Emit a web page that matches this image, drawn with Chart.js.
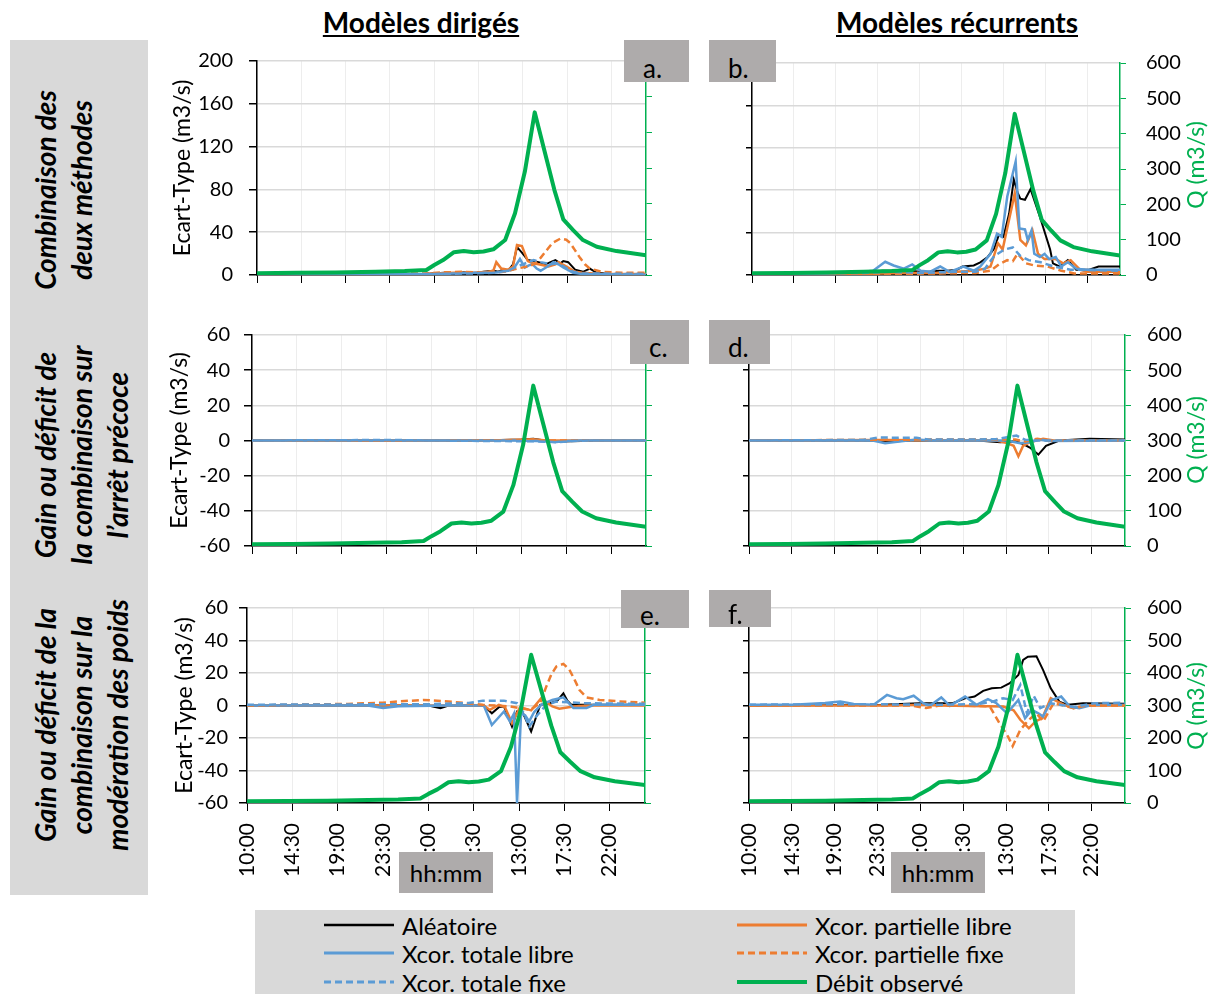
<!DOCTYPE html>
<html lang="fr">
<head>
<meta charset="utf-8">
<title>Ecart-type des débits - modèles dirigés et récurrents</title>
<script src="https://cdn.jsdelivr.net/npm/chart.js@4.4.1/dist/chart.umd.min.js"></script>
<style>
  body { margin: 0; background: #fff; font-family: Lato, sans-serif; color: #000; }
  #page { position: relative; width: 1212px; height: 994px; overflow: hidden; }
  canvas.panel { position: absolute; z-index: 1; }
  .col-title { position: absolute; top: 5px; font-weight: bold; font-size: 28px; text-decoration: underline; transform: translateX(-50%); white-space: nowrap; }
  .row-box { position: absolute; left: 10px; top: 40px; width: 138px; height: 855px; background: #D9D9D9; }
  .row-label { position: absolute; width: 320px; text-align: center; font-weight: bold; font-style: italic; font-size: 28px; line-height: 36px; transform: rotate(-90deg); white-space: nowrap; }
  .tag { position: absolute; background: #AEABAB; z-index: 2; overflow: hidden; }
  .tag span { position: absolute; left: 19px; font-size: 26px; line-height: 1; }
  .hh { position: absolute; top: 852px; width: 94px; height: 41px; line-height: 41px; background: #AEABAB; z-index: 2; font-size: 24px; text-align: center; }
  .q-title { position: absolute; width: 140px; height: 28px; line-height: 28px; text-align: center; color: #00B050; font-size: 23px; transform: rotate(-90deg); z-index: 2; }
  .legend-box { position: absolute; left: 255px; top: 910px; width: 820px; height: 90px; background: #D9D9D9; }
  .leg { position: absolute; height: 28px; display: flex; align-items: center; font-size: 24px; white-space: nowrap; }
  .leg svg { margin-right: 8px; }
</style>
</head>
<body>
<div id="page">
  <div class="col-title" style="left:421px">Modèles dirigés</div>
  <div class="col-title" style="left:957px">Modèles récurrents</div>

  <div class="row-box"></div>
  <div class="row-label" style="left:-97px; top:154px; height:72px">Combinaison des<br>deux méthodes</div>
  <div class="row-label" style="left:-79px; top:401px; height:108px">Gain ou déficit de<br>la combinaison sur<br>l’arrêt précoce</div>
  <div class="row-label" style="left:-79px; top:671px; height:108px">Gain ou déficit de la<br>combinaison sur la<br>modération des poids</div>

  <canvas class="panel" id="chart-a" width="506" height="249" style="left:150px; top:41px"></canvas>
  <canvas class="panel" id="chart-b" width="505" height="247" style="left:700px; top:43px"></canvas>
  <canvas class="panel" id="chart-c" width="506" height="246" style="left:150px; top:315px"></canvas>
  <canvas class="panel" id="chart-d" width="505" height="246" style="left:700px; top:315px"></canvas>
  <canvas class="panel" id="chart-e" width="505" height="307" style="left:150px; top:588px"></canvas>
  <canvas class="panel" id="chart-f" width="505" height="307" style="left:700px; top:588px"></canvas>

  <div class="tag" style="left:624px; top:40px; width:65px; height:42px"><span style="bottom:1px">a.</span></div>
  <div class="tag" style="left:709px; top:40px; width:67px; height:42px"><span style="bottom:1px">b.</span></div>
  <div class="tag" style="left:630px; top:320px; width:59px; height:44px"><span style="bottom:4px">c.</span></div>
  <div class="tag" style="left:709px; top:320px; width:61px; height:44px"><span style="bottom:4px">d.</span></div>
  <div class="tag" style="left:621px; top:590px; width:68px; height:38px"><span style="bottom:0px">e.</span></div>
  <div class="tag" style="left:709px; top:590px; width:62px; height:37px"><span style="bottom:0px">f.</span></div>

  <div class="hh" style="left:399px">hh:mm</div>
  <div class="hh" style="left:891px">hh:mm</div>

  <div class="q-title" style="left:1125px; top:151px">Q (m3/s)</div>
  <div class="q-title" style="left:1125px; top:426px">Q (m3/s)</div>
  <div class="q-title" style="left:1125px; top:692px">Q (m3/s)</div>

  <div class="legend-box"></div>
  <div id="legend"></div>
</div>

<script>
// axe des temps : heures écoulées depuis 10:00, étiquettes toutes les 4h30
const tickHours = [0, 4.5, 9, 13.5, 18, 22.5, 27, 31.5, 36];
const tickLabels = ['10:00', '14:30', '19:00', '23:30', '4:00', '8:30', '13:00', '17:30', '22:00'];

const seriesNames = ['Aléatoire', 'Xcor. partielle libre', 'Xcor. totale libre', 'Xcor. partielle fixe', 'Xcor. totale fixe'];
const debitName = 'Débit observé';

// débit observé (axe de droite, m3/s) - identique dans les 6 graphes
const debitObserve = [[0,5],[4,6],[8,7],[12,9],[15,11],[17.2,14],[18,28],[18.9,42],[20,64],[21,67],[22,64],[23,66],[24,72],[25.2,98],[26.2,173],[27.2,290],[28.2,456],[29.2,347],[30.2,238],[31.1,156],[32.1,126],[33.1,98],[34.5,79],[36.5,67],[39.5,55]];

// a. modèles dirigés - combinaison des deux méthodes
const aAlea = [[0,0.5],[10,0.5],[17,1],[19,2],[20,1],[21,2.5],[22,1.5],[23,3],[24,4],[24.5,3],[25,5],[25.5,4],[26,10],[26.4,26],[26.9,21],[27.5,14],[28,13],[28.6,12],[29.3,10],[29.8,12],[30.3,14],[30.8,11],[31.1,13],[31.6,12],[32.3,5],[33.1,3],[33.8,6],[34.5,2],[36,1],[39.5,1]];
const aPartLibre = [[0,0.5],[17,1],[20,2],[22,2],[23.5,3],[24,4],[24.3,12],[24.8,6],[25.5,5],[26,8],[26.4,28],[26.9,27],[27.5,13],[28,11],[28.6,10],[29.6,8],[30.3,10],[30.6,12],[31.2,9],[31.6,7],[32.3,3],[33,2],[35,1],[39.5,1]];
const aTotLibre = [[0,0.5],[18,1],[20,1.5],[22,2],[24,2],[25,3],[26,5],[26.7,15],[27.2,7],[27.6,9],[28,10],[28.4,6],[28.8,4],[29.5,8],[30.1,12],[30.6,10],[31.1,7],[32.1,2],[33,1],[39.5,0.5]];
const aPartFixe = [[0,0.5],[10,0.5],[17,1.5],[19,2.5],[21,3],[23,2],[25,3],[26.4,6],[27.5,8],[28.1,10],[28.8,16],[29.4,23],[30,30],[30.8,34],[31.4,33],[31.8,30],[32.3,23],[32.8,16],[33.3,10],[33.8,6],[35,3],[37,2],[39.5,2]];
const aTotFixe = [[0,0.5],[18,1],[22,1.5],[24,2],[25.5,4],[26.4,8],[27,10],[28.1,14],[28.8,12],[29.8,10],[30.5,11],[31.1,8],[32.1,3],[33,1.5],[39.5,1]];

// b. modèles récurrents - combinaison des deux méthodes
const bAlea = [[0,0.5],[10,1.5],[13,3],[14,4],[15.5,4],[17,4],[18,3],[19,3],[20,4],[21,4],[22,5],[22.6,8],[23.8,9],[24.5,12],[25.3,17],[26,25],[26.5,38],[27,36],[27.6,58],[28.1,90],[28.5,78],[28.8,72],[29.3,71],[29.9,81],[30.9,55],[32,24],[32.3,11],[33,8],[33.9,14],[34.8,5],[36.2,5],[37.2,8],[39.5,8]];
const bPartLibre = [[0,0.5],[12,1],[16,2],[20,2],[22,3],[23.8,4],[25,6],[25.6,8],[26.4,30],[26.9,24],[28.2,77],[28.8,33],[29.4,28],[30.1,42],[30.7,20],[31.4,15],[32.6,15],[33.4,11],[34.2,14],[35.2,5],[36,3],[39.5,3]];
const bTotLibre = [[0,0.5],[8,1.5],[12,3],[13,4],[14.3,12.5],[15.2,9],[16.3,6],[17.2,10],[18.1,4],[19.1,3],[20.2,8],[21.2,3],[22.7,8],[23.8,4],[24.5,8],[25.6,20],[26.3,39],[26.8,36],[27.4,74],[28.3,107],[28.7,44],[29.3,43],[29.6,33],[30,42],[30.3,20],[30.9,17],[31.4,20],[31.9,15],[32.6,17],[33.2,8],[33.9,12],[34.8,6],[35.9,5],[39.5,5]];
const bPartFixe = [[0,0.5],[15,1],[20,1.5],[24,2],[25.6,4],[26.5,10],[27.4,14],[28,13],[28.5,20],[29.4,11],[30.3,9],[31.7,8],[33.2,4],[34.6,1.5],[39.5,1.5]];
const bTotFixe = [[0,0.5],[12,2],[15,3],[18,2],[22,3],[24,3],[25,6],[26,18],[27.1,24],[28,26],[28.8,18],[29.7,14],[31,12],[32.4,8],[34.2,5],[39.5,4]];

// c. modèles dirigés - gain/déficit sur l'arrêt précoce
const cAlea = [[0,0],[22,0],[25,0.3],[27,0.5],[28.2,1],[29,0.3],[30,-0.8],[31,-0.5],[33,-0.3],[35,0],[39.5,0]];
const cPartLibre = [[0,0],[24,0],[28.2,0.7],[29.5,0],[39.5,0]];
const cTotLibre = [[0,0],[26,0],[28.5,-0.3],[30.5,-0.8],[31.5,-0.3],[33,0],[39.5,0]];
const cPartFixe = [[0,0],[39.5,0]];
const cTotFixe = [[0,0],[14,0.3],[18,0],[28.8,-0.5],[30.7,-1],[32,-0.3],[34,0],[39.5,0]];

// d. modèles récurrents - gain/déficit sur l'arrêt précoce
const dAlea = [[0,0],[13,0],[15,-0.5],[17,0],[24,0],[26.4,-1],[28,-0.5],[28.8,-2],[29.5,-4],[30.4,-8],[31.2,-3],[32.6,0],[35.8,1],[39.5,0.5]];
const dPartLibre = [[0,0],[14,0.3],[26,0],[27.1,-1.5],[27.8,-3],[28.3,-9],[28.8,-3],[29.5,-1],[30.9,1],[32,0],[39.5,0]];
const dTotLibre = [[0,0],[13,0],[14.3,-1.5],[16,-0.5],[17.6,0.5],[19,0],[27,0],[28.5,-1.5],[29.5,-1],[30.5,0.5],[31.5,-0.3],[39.5,0]];
const dPartFixe = [[0,0],[17,0.5],[26,0.5],[28,0.5],[29,-0.5],[30.3,1],[31.5,0],[39.5,0]];
const dTotFixe = [[0,0],[12,0.3],[13.7,1.8],[15.5,1.5],[17.6,1.5],[19,0.5],[24,0.5],[26,0.8],[28.1,2.8],[29,0.5],[30,0],[39.5,0]];

// e. modèles dirigés - gain/déficit sur la modération des poids
const eAlea = [[0,0],[18,0],[19.2,-1.6],[20,0],[23.5,0],[24.3,-4.8],[25,-1],[25.5,-0.6],[26.3,-13],[26.8,-3.7],[27.4,-4.8],[28.2,-16],[29.1,0.4],[30.1,1.4],[30.8,3],[31.4,7.5],[31.8,3],[32.2,0.4],[33.4,0.4],[39.5,0.5]];
const ePartLibre = [[0,0],[23.5,0],[24.1,-2.7],[25,0.4],[25.6,-1],[26.3,-10.8],[27.1,-1],[28.2,-3],[29.2,4.5],[30.3,-0.6],[31,-2],[32.4,-0.6],[34,0],[39.5,0]];
const eTotLibre = [[0,0],[12,0],[13.5,-1.6],[15,-0.5],[20,0],[23.5,0],[24.3,-12],[25.5,-3.7],[26.1,-9.8],[26.5,-5],[26.8,-60],[27.2,-4.8],[27.6,-6],[28,-9.8],[28.5,-4],[29.2,0.4],[30.3,3.4],[31.4,5],[32.4,-1.6],[33.7,-1.6],[34.4,0.4],[39.5,0.5]];
const ePartFixe = [[0,0],[5,0.5],[10,1],[13.5,1.7],[15,2.5],[17.5,3.4],[20,2.5],[21.8,1.4],[23.4,0.4],[26.1,-0.6],[28.1,-2.7],[29.1,1.5],[29.7,11.6],[30.2,19],[30.7,24],[31.4,25.6],[32,22],[32.5,16],[33,9.5],[33.7,5],[35,3.4],[37,2.5],[39.5,1.7]];
const eTotFixe = [[0,0.5],[18,0.8],[22,1.5],[23.4,3],[25.5,3],[26.8,1.4],[27.5,-5],[28,-13],[28.7,-6.8],[29.7,0.4],[30.7,2.4],[33.4,1.4],[39.5,1]];

// f. modèles récurrents - gain/déficit sur la modération des poids
const fAlea = [[0,0],[10,0.3],[14,0.5],[17.9,1.4],[21.4,1.4],[22.7,4.4],[23.7,5.5],[24.6,9],[25.5,10.6],[26.5,11],[27.4,13.7],[28.3,18.8],[28.8,28],[29.3,30],[30.2,30.3],[30.9,21.8],[31.7,10.6],[32.6,2.4],[33.5,0.4],[35.1,1.4],[39.5,1]];
const fPartLibre = [[0,0],[15,0],[18.3,0.4],[20,0],[26.7,-0.6],[27.8,-3],[28.5,-8.8],[29.4,-14],[30.1,-9.8],[30.8,-7.8],[31.7,4.5],[33.1,0.4],[34.1,-1.6],[35.5,0],[39.5,0]];
const fTotLibre = [[0,0.4],[4.6,0.5],[8,1.5],[9.6,2.4],[11,1],[13.1,0.4],[14.5,6.5],[15.5,4.5],[16.2,3.9],[17.3,6],[18.3,1.4],[19,-0.2],[20.2,5],[21.1,-0.2],[22.7,5.5],[23.9,0.4],[25.1,3.9],[26,1.4],[27.1,-4.8],[28.3,3.4],[29,-7.8],[29.7,-2.7],[30.4,-4.8],[30.9,-6.8],[31.8,3.4],[32.8,5.5],[33.7,-0.6],[34.7,-1.6],[36.1,0.4],[39.5,0.4]];
const fPartFixe = [[0,0],[17,0],[18.6,-1.6],[20,0],[24,-0.3],[25.3,-0.6],[26.3,-10.8],[27.2,-19],[27.7,-25],[28.5,-15],[29.4,-8.8],[30.2,-4.8],[30.9,-9.8],[32,1.4],[34.1,-1.6],[35.5,0],[39.5,0]];
const fTotFixe = [[0,0.5],[12,0.8],[20,0.5],[24,0.8],[25.6,2.4],[26.7,4.5],[27.7,3.4],[28.5,12.6],[29.2,-4.8],[29.9,6],[30.6,-1.6],[31.7,1.4],[34.1,-1],[36.2,1.4],[39.5,1.7]];

// styles des séries (même ordre que seriesNames)
const GREEN = '#00B050';
const seriesStyles = [
  { color: '#000000', width: 2, dash: [] },
  { color: '#ED7D31', width: 2.5, dash: [] },
  { color: '#5B9BD5', width: 2.5, dash: [] },
  { color: '#ED7D31', width: 2.5, dash: [7, 4] },
  { color: '#5B9BD5', width: 2.5, dash: [7, 4] }
];

Chart.defaults.font.family = 'Lato, sans-serif';
Chart.defaults.color = '#000';

const toXY = arr => arr.map(p => ({ x: p[0], y: p[1] }));

// les marges internes calculées par Chart.js décaleraient la zone de tracé
function fixVertical(width) {
  return s => { s.width = width; s.paddingTop = 0; s.paddingBottom = 0; };
}

// un graphe = 5 séries sur l'axe de gauche + le débit sur l'axe de droite
function makePanel(id, series, o) {
  // comme dans Excel : la dernière série est dessinée par-dessus
  const datasets = series.map((data, i) => ({
    label: seriesNames[i],
    data: toXY(data),
    yAxisID: 'y',
    order: 10 - i,
    borderColor: seriesStyles[i].color,
    borderWidth: seriesStyles[i].width,
    borderDash: seriesStyles[i].dash,
    pointRadius: 0,
    tension: 0
  }));
  datasets.push({
    label: debitName,
    data: toXY(debitObserve),
    yAxisID: 'y1',
    order: 0,
    borderColor: GREEN,
    borderWidth: 4,
    borderJoinStyle: 'round',
    pointRadius: 0,
    tension: 0
  });

  return new Chart(document.getElementById(id), {
    type: 'line',
    data: { datasets: datasets },
    options: {
      responsive: false,
      animation: false,
      devicePixelRatio: 1,
      layout: { padding: { top: 20, left: 0, right: 0, bottom: 0 } },
      plugins: { legend: { display: false }, tooltip: { enabled: false } },
      scales: {
        x: {
          type: 'linear',
          min: 0,
          max: 39.5,
          afterBuildTicks: s => { s.ticks = tickHours.map(v => ({ value: v })); },
          afterFit: s => { s.height = o.xHeight; s.paddingLeft = 0; s.paddingRight = 0; },
          grid: { color: '#EDEDED', lineWidth: 1, tickColor: '#000', tickLength: 8 },
          border: { color: '#000', width: 1.5 },
          ticks: {
            display: o.xLabels,
            autoSkip: false,
            minRotation: 90,
            maxRotation: 90,
            padding: 12,
            font: { size: 21 },
            callback: v => tickLabels[tickHours.indexOf(v)]
          }
        },
        y: {
          position: 'left',
          min: o.yMin,
          max: o.yMax,
          afterFit: fixVertical(o.leftWidth),
          grid: { color: '#D9D9D9', lineWidth: 1.5, tickColor: '#000', tickLength: o.leftLabels ? 8 : 6 },
          border: { color: '#000', width: 1.5 },
          ticks: { stepSize: o.yStep, display: o.leftLabels, padding: o.leftPad || 10, font: { size: 20 } },
          title: {
            display: o.leftLabels,
            text: 'Ecart-Type (m3/s)',
            font: { size: 23 },
            padding: { top: o.titlePad || 0, bottom: 0 }
          }
        },
        y1: {
          position: 'right',
          min: 0,
          max: 600,
          afterFit: fixVertical(o.rightWidth),
          grid: { drawOnChartArea: false, color: GREEN, tickColor: GREEN, tickLength: 6 },
          border: { color: GREEN, width: 1.5 },
          ticks: { stepSize: 100, display: o.rightLabels, padding: o.rightPad || 10, font: { size: 20 } }
        }
      }
    }
  });
}

const rowTop = { yMin: 0, yMax: 200, yStep: 40 };
const rowGain = { yMin: -60, yMax: 60, yStep: 20 };

makePanel('chart-a', [aAlea, aPartLibre, aTotLibre, aPartFixe, aTotFixe],
  Object.assign({}, rowTop, { leftLabels: true, leftWidth: 107, leftPad: 16, titlePad: 19, rightLabels: false, rightWidth: 10, xLabels: false, xHeight: 15 }));
makePanel('chart-b', [bAlea, bPartLibre, bTotLibre, bPartFixe, bTotFixe],
  Object.assign({}, rowTop, { leftLabels: false, leftWidth: 52, rightLabels: true, rightWidth: 85, rightPad: 20, xLabels: false, xHeight: 15 }));
makePanel('chart-c', [cAlea, cPartLibre, cTotLibre, cPartFixe, cTotFixe],
  Object.assign({}, rowGain, { leftLabels: true, leftWidth: 102, leftPad: 14, titlePad: 16, rightLabels: false, rightWidth: 10, xLabels: false, xHeight: 15 }));
makePanel('chart-d', [dAlea, dPartLibre, dTotLibre, dPartFixe, dTotFixe],
  Object.assign({}, rowGain, { leftLabels: false, leftWidth: 49, rightLabels: true, rightWidth: 80, rightPad: 16, xLabels: false, xHeight: 15 }));
makePanel('chart-e', [eAlea, ePartLibre, eTotLibre, ePartFixe, eTotFixe],
  Object.assign({}, rowGain, { leftLabels: true, leftWidth: 97, leftPad: 11, titlePad: 21, rightLabels: false, rightWidth: 10, xLabels: true, xHeight: 92 }));
makePanel('chart-f', [fAlea, fPartLibre, fTotLibre, fPartFixe, fTotFixe],
  Object.assign({}, rowGain, { leftLabels: false, leftWidth: 49, rightLabels: true, rightWidth: 80, rightPad: 16, xLabels: true, xHeight: 92 }));

// légende commune (deux colonnes, lecture ligne par ligne)
function buildLegend() {
  const legend = document.getElementById('legend');
  const items = seriesNames.map((name, i) => ({ name: name, color: seriesStyles[i].color, width: seriesStyles[i].width + 0.5, dash: seriesStyles[i].dash }));
  items.push({ name: debitName, color: GREEN, width: 4, dash: [] });
  const colX = [324, 737];
  const rowY = [911, 939, 968];
  items.forEach((it, i) => {
    const div = document.createElement('div');
    div.className = 'leg';
    div.style.left = colX[i % 2] + 'px';
    div.style.top = rowY[Math.floor(i / 2)] + 'px';
    div.innerHTML = `<svg width="70" height="8"><line x1="0" y1="4" x2="70" y2="4" stroke="${it.color}" stroke-width="${it.width}" stroke-dasharray="${it.dash.join(',')}"/></svg><span>${it.name}</span>`;
    legend.appendChild(div);
  });
}
buildLegend();
</script>
</body>
</html>
